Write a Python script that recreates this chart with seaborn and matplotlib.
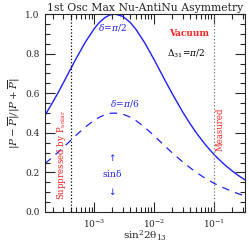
import numpy as np
import pandas as pd
import seaborn as sns
import matplotlib
matplotlib.use('Agg')
from matplotlib import pyplot as plt
from matplotlib.ticker import LogLocator, MultipleLocator, NullFormatter

sns.set_style('ticks')
plt.rcParams['font.family'] = ['DejaVu Serif']
plt.rcParams['mathtext.fontset'] = 'dejavuserif'

# values
sin2_2th13 = [1.5e-4, 2e-4, 2.5e-4, 3e-4, 4e-4, 5e-4, 7e-4, 1e-3, 1.2e-3, 1.5e-3,
              1.8e-3, 2.2e-3, 3e-3, 4e-3, 5e-3, 7e-3, 1e-2, 1.5e-2, 2e-2, 3e-2,
              4e-2, 5e-2, 7e-2, 0.1, 0.15, 0.2, 0.25, 0.33]
asym_pi2 = [0.489, 0.553, 0.605, 0.650, 0.722, 0.777, 0.856, 0.927, 0.956, 0.982,
            0.995, 1.0, 0.988, 0.957, 0.921, 0.853, 0.769, 0.668, 0.598, 0.505,
            0.445, 0.402, 0.344, 0.290, 0.239, 0.208, 0.186, 0.162]
asym_pi6 = [0.245, 0.277, 0.303, 0.325, 0.361, 0.389, 0.428, 0.464, 0.478, 0.491,
            0.498, 0.5, 0.494, 0.479, 0.461, 0.427, 0.385, 0.334, 0.299, 0.253,
            0.223, 0.201, 0.172, 0.145, 0.120, 0.104, 0.093, 0.081]
solar_limit = 4e-4
measured = 0.1

df = pd.DataFrame({'x': sin2_2th13, 'pi2': asym_pi2, 'pi6': asym_pi6})

blue = '#2020ff'
red = '#ff2020'

fig = plt.figure(figsize=(2.49, 2.42), dpi=100)
ax = fig.add_axes([0.181, 0.124, 0.803, 0.818])

sns.lineplot(x='x', y='pi2', data=df, ax=ax, color=blue, lw=1.0)
sns.lineplot(x='x', y='pi6', data=df, ax=ax, color=blue, lw=0.9)
ax.lines[-1].set_dashes((6, 5))

ax.axvline(solar_limit, color='black', ls=':', lw=0.9)
ax.axvline(measured, color='#777777', ls=':', lw=0.9)

ax.set_xscale('log')
ax.set_xlim(1.5e-4, 0.33)
ax.set_ylim(0, 1.0)

ax.xaxis.set_major_locator(LogLocator(base=10, numticks=10))
ax.xaxis.set_minor_locator(LogLocator(base=10, subs=np.arange(2, 10), numticks=10))
ax.xaxis.set_minor_formatter(NullFormatter())
ax.yaxis.set_major_locator(MultipleLocator(0.2))
ax.yaxis.set_minor_locator(MultipleLocator(0.05))
ax.yaxis.set_major_formatter(matplotlib.ticker.FormatStrFormatter('%.1f'))

ax.tick_params(which='both', direction='in', top=True, right=True, labelsize=6.5,
               width=0.8)
ax.tick_params(which='major', length=7, pad=4)
ax.tick_params(which='minor', length=3.5)
for s in ax.spines.values():
    s.set_linewidth(0.8)

ax.set_title('1st Osc Max Nu-AntiNu Asymmetry', fontsize=7.8, pad=2)
ax.set_xlabel(r'$\mathregular{sin^22\theta_{13}}$', fontsize=7.5, labelpad=-1)
ax.set_ylabel(r'$|P-\overline{P}|/|P+\overline{P}|$', fontsize=7.5, labelpad=2)

ax.text(2.0e-3, 0.93, r'$\delta\!=\!\pi/2$', color=blue, fontsize=6.5,
        ha='center', va='center')
ax.text(3.2e-3, 0.55, r'$\delta\!=\!\pi/6$', color=blue, fontsize=6.5,
        ha='center', va='center')
ax.text(0.038, 0.90, 'Vacuum', color=red, fontsize=6.5, ha='center',
        va='center', weight='bold')
ax.text(0.034, 0.80, r'$\Delta_{31}\!=\!\pi/2$', color='black', fontsize=6.5,
        ha='center', va='center')
ax.text(2.0e-3, 0.27, '↑', color=blue, fontsize=6.5, ha='center', va='center',
        family='DejaVu Sans')
ax.text(2.0e-3, 0.195, r'$\mathregular{sin\delta}$', color=blue, fontsize=6.5,
        ha='center', va='center')
ax.text(2.0e-3, 0.10, '↓', color=blue, fontsize=6.5, ha='center', va='center',
        family='DejaVu Sans')
ax.text(2.8e-4, 0.06, r'Suppressed by P$_\mathregular{solar}$', color=red,
        fontsize=6.2, rotation=90, ha='center', va='bottom')
ax.text(0.126, 0.31, 'Measured', color=red, fontsize=6.2, rotation=90,
        ha='center', va='bottom')

fig.savefig('out.png', dpi=100)
